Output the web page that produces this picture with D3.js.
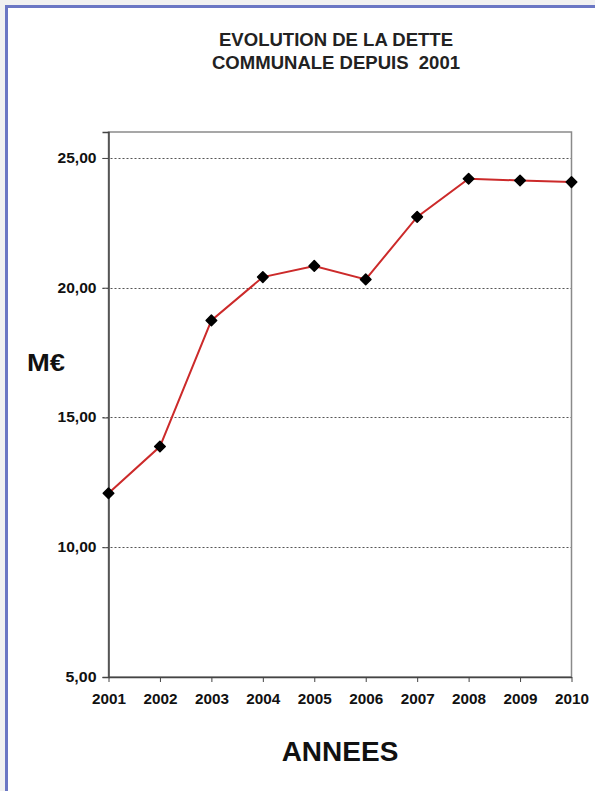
<!DOCTYPE html>
<html>
<head>
<meta charset="utf-8">
<script src="https://cdn.jsdelivr.net/npm/d3@7"></script>
<style>
  body { margin: 0; background: #f1f1f1; }
  svg { display: block; }
  .title text { white-space: pre; }
</style>
</head>
<body>
<svg id="chart" width="595" height="791"></svg>
<script>
const years = ["2001", "2002", "2003", "2004", "2005", "2006", "2007", "2008", "2009", "2010"];
const dette = [12.08, 13.88, 18.74, 20.41, 20.84, 20.32, 22.73, 24.2, 24.13, 24.07];
const yTicks = [5, 10, 15, 20, 25];
const titleLines = ["EVOLUTION DE LA DETTE", "COMMUNALE DEPUIS  2001"];

const width = 595;
const height = 791;
const margin = ({top: 132, right: 23.5, bottom: 114, left: 108.5});

const svg = d3.select("#chart");

// cadre bleu de la page
svg.append("rect")
    .attr("x", 6.5).attr("y", 6.5)
    .attr("width", width + 10).attr("height", height + 10)
    .attr("fill", "#fff")
    .attr("stroke", "#6b77c4")
    .attr("stroke-width", 3);

const x = d3.scalePoint()
    .domain(years)
    .range([margin.left, width - margin.right]);

const y = d3.scaleLinear()
    .domain([5, 26])
    .range([height - margin.bottom, margin.top]);

const fr = d3.formatLocale({decimal: ",", thousands: " ", grouping: [3], currency: ["", "€"]});
const fmt = fr.format(".2f");

// titre
svg.append("g")
    .attr("class", "title")
    .attr("font-family", "Liberation Sans, Arial, sans-serif")
    .attr("font-weight", "bold")
    .attr("font-size", 19)
    .attr("fill", "#222")
    .attr("text-anchor", "middle")
    .selectAll("text")
    .data(titleLines)
    .join("text")
    .attr("x", 336)
    .attr("y", (d, i) => 46 + i * 23)
    .attr("textLength", (d, i) => i === 0 ? 234 : 248)
    .attr("lengthAdjust", "spacingAndGlyphs")
    .text(d => d);

// grille pointillée
svg.append("g")
    .selectAll("line")
    .data(yTicks.filter(d => d > 5))
    .join("line")
    .attr("x1", margin.left - 6)
    .attr("x2", width - margin.right)
    .attr("y1", d => Math.round(y(d)) + 0.5)
    .attr("y2", d => Math.round(y(d)) + 0.5)
    .attr("stroke", "#555")
    .attr("stroke-width", 1)
    .attr("stroke-dasharray", "2,2");

// cadre du graphique
svg.append("rect")
    .attr("x", margin.left)
    .attr("y", margin.top)
    .attr("width", width - margin.right - margin.left)
    .attr("height", height - margin.bottom - margin.top)
    .attr("fill", "none")
    .attr("stroke", "#8a8a8a")
    .attr("stroke-width", 1.5);

const yAxis = g => g
    .attr("transform", `translate(${margin.left},0)`)
    .call(d3.axisLeft(y).tickValues(yTicks).tickFormat(fmt).tickSize(6).tickPadding(6))
    .call(g => g.select(".domain").attr("stroke", "#444").attr("stroke-width", 1.5))
    .call(g => g.selectAll(".tick line").attr("stroke", "#444"))
    .call(g => g.selectAll(".tick text")
        .attr("font-family", "Liberation Sans, Arial, sans-serif")
        .attr("font-weight", "bold")
        .attr("font-size", 14)
        .attr("fill", "#111")
        .attr("textLength", d => d >= 10 ? 39 : 31)
        .attr("lengthAdjust", "spacingAndGlyphs"));

const xAxis = g => g
    .attr("transform", `translate(0,${height - margin.bottom})`)
    .call(d3.axisBottom(x).tickSize(5).tickPadding(12).tickSizeOuter(0))
    .call(g => g.select(".domain").attr("stroke", "#444").attr("stroke-width", 1.5))
    .call(g => g.selectAll(".tick line").attr("stroke", "#444"))
    .call(g => g.selectAll(".tick text")
        .attr("font-family", "Liberation Sans, Arial, sans-serif")
        .attr("font-weight", "bold")
        .attr("font-size", 14)
        .attr("fill", "#111")
        .attr("textLength", 34)
        .attr("lengthAdjust", "spacingAndGlyphs"));

svg.append("g").call(yAxis);
svg.append("g").call(xAxis);

// courbe
const line = d3.line()
    .x((d, i) => x(years[i]))
    .y(d => y(d));

svg.append("path")
    .datum(dette)
    .attr("fill", "none")
    .attr("stroke", "#cc2a2a")
    .attr("stroke-width", 2)
    .attr("d", line);

svg.append("g")
    .selectAll("path")
    .data(dette)
    .join("path")
    .attr("transform", (d, i) => `translate(${x(years[i])},${y(d)}) rotate(45)`)
    .attr("d", d3.symbol(d3.symbolSquare, 56))
    .attr("fill", "#000")
    .attr("stroke", "#000")
    .attr("stroke-width", 1.5)
    .attr("stroke-linejoin", "round");

// libellés des axes
svg.append("text")
    .attr("x", 46)
    .attr("y", 371)
    .attr("text-anchor", "middle")
    .attr("font-family", "Liberation Sans, Arial, sans-serif")
    .attr("font-weight", "bold")
    .attr("font-size", 24)
    .attr("textLength", 38)
    .attr("lengthAdjust", "spacingAndGlyphs")
    .attr("fill", "#111")
    .text("M€");

svg.append("text")
    .attr("x", 340)
    .attr("y", 761)
    .attr("text-anchor", "middle")
    .attr("font-family", "Liberation Sans, Arial, sans-serif")
    .attr("font-weight", "bold")
    .attr("font-size", 28)
    .attr("fill", "#111")
    .text("ANNEES");
</script>
</body>
</html>
